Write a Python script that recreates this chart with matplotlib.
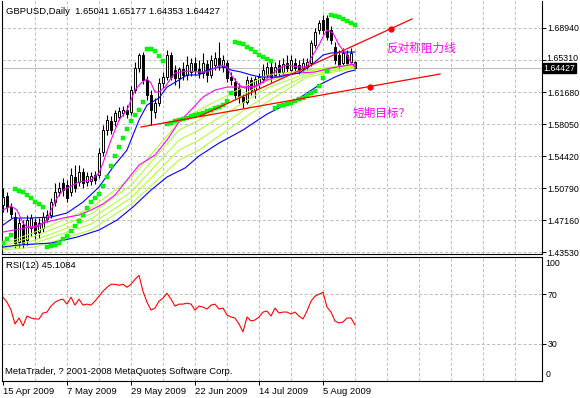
import numpy as np
import matplotlib.pyplot as plt

# daily bars GBPUSD, 15 Apr 2009 .. 17 Aug 2009
opens = [1.4886, 1.4988, 1.4864, 1.4750, 1.4467, 1.4660, 1.4490, 1.4626, 1.4694, 1.4580,
         1.4626, 1.4728, 1.4773, 1.4920, 1.5034, 1.5136, 1.5113, 1.5034, 1.5204, 1.5147,
         1.5261, 1.5147, 1.5158, 1.5227, 1.5227, 1.5487, 1.5737, 1.5839, 1.5839, 1.5884,
         1.5930, 1.5964, 1.5941, 1.6190, 1.6440, 1.6587, 1.6304, 1.6134, 1.5941, 1.6043,
         1.6270, 1.6338, 1.6587, 1.6417, 1.6326, 1.6429, 1.6361, 1.6395, 1.6497, 1.6429,
         1.6383, 1.6485, 1.6361, 1.6474, 1.6553, 1.6451, 1.6497, 1.6338, 1.6281, 1.6213,
         1.6111, 1.6054, 1.6304, 1.6190, 1.6270, 1.6315, 1.6361, 1.6451, 1.6361, 1.6474,
         1.6395, 1.6497, 1.6417, 1.6497, 1.6474, 1.6440, 1.6451, 1.6497, 1.6701, 1.6871,
         1.6984, 1.7007, 1.6871, 1.6678, 1.6587, 1.6497, 1.6587, 1.6508, 1.65041]
highs = [1.5079, 1.5034, 1.4909, 1.4807, 1.4739, 1.4716, 1.4773, 1.4784, 1.4739, 1.4739,
         1.4807, 1.4830, 1.4966, 1.5136, 1.5147, 1.5193, 1.5170, 1.5306, 1.5340, 1.5340,
         1.5306, 1.5261, 1.5261, 1.5272, 1.5533, 1.5793, 1.5907, 1.5896, 1.5964, 1.5998,
         1.6009, 1.6020, 1.6236, 1.6508, 1.6610, 1.6621, 1.6349, 1.6190, 1.6100, 1.6326,
         1.6395, 1.6644, 1.6621, 1.6474, 1.6451, 1.6508, 1.6576, 1.6553, 1.6565, 1.6531,
         1.6610, 1.6531, 1.6587, 1.6621, 1.6735, 1.6587, 1.6531, 1.6395, 1.6326, 1.6270,
         1.6145, 1.6349, 1.6338, 1.6349, 1.6383, 1.6485, 1.6508, 1.6508, 1.6508, 1.6531,
         1.6553, 1.6587, 1.6587, 1.6553, 1.6531, 1.6553, 1.6553, 1.6757, 1.6893, 1.6984,
         1.7041, 1.7041, 1.6916, 1.6735, 1.6644, 1.6667, 1.6644, 1.6667, 1.65177]
lows = [1.4807, 1.4807, 1.4739, 1.4399, 1.4410, 1.4399, 1.4433, 1.4535, 1.4490, 1.4512,
        1.4580, 1.4694, 1.4739, 1.4875, 1.4988, 1.4988, 1.4920, 1.4988, 1.5034, 1.5102,
        1.5079, 1.5102, 1.5113, 1.5124, 1.5193, 1.5442, 1.5680, 1.5691, 1.5782, 1.5850,
        1.5896, 1.5873, 1.5907, 1.6156, 1.6395, 1.6258, 1.6077, 1.5793, 1.5873, 1.6009,
        1.6213, 1.6304, 1.6304, 1.6247, 1.6213, 1.6304, 1.6304, 1.6349, 1.6361, 1.6326,
        1.6326, 1.6281, 1.6326, 1.6417, 1.6417, 1.6395, 1.6281, 1.6247, 1.6077, 1.6043,
        1.5986, 1.6032, 1.6134, 1.6100, 1.6213, 1.6270, 1.6326, 1.6281, 1.6349, 1.6349,
        1.6372, 1.6395, 1.6395, 1.6395, 1.6372, 1.6395, 1.6417, 1.6463, 1.6667, 1.6825,
        1.6825, 1.6757, 1.6712, 1.6485, 1.6417, 1.6463, 1.6463, 1.6474, 1.64353]
closes = [1.4977, 1.4864, 1.4784, 1.4455, 1.4682, 1.4455, 1.4716, 1.4739, 1.4569, 1.4682,
          1.4750, 1.4773, 1.4920, 1.5034, 1.5079, 1.5056, 1.4966, 1.5227, 1.5079, 1.5261,
          1.5136, 1.5215, 1.5215, 1.5170, 1.5476, 1.5737, 1.5850, 1.5737, 1.5930, 1.5952,
          1.5964, 1.5918, 1.6190, 1.6440, 1.6587, 1.6304, 1.6134, 1.5964, 1.6043, 1.6270,
          1.6338, 1.6587, 1.6338, 1.6326, 1.6429, 1.6361, 1.6474, 1.6497, 1.6417, 1.6383,
          1.6497, 1.6361, 1.6531, 1.6553, 1.6474, 1.6531, 1.6326, 1.6304, 1.6134, 1.6111,
          1.6054, 1.6304, 1.6190, 1.6315, 1.6338, 1.6417, 1.6451, 1.6338, 1.6451, 1.6395,
          1.6485, 1.6440, 1.6531, 1.6440, 1.6417, 1.6497, 1.6508, 1.6723, 1.6848, 1.6950,
          1.6871, 1.6791, 1.6757, 1.6531, 1.6474, 1.6610, 1.6497, 1.6610, 1.64427]

# parabolic SAR
sar = [1.4455, 1.4501, 1.4546, 1.5068, 1.5045, 1.5034, 1.5000, 1.4966, 1.4920, 1.4898,
       1.4864, 1.4410, 1.4421, 1.4433, 1.4455, 1.4501, 1.4535, 1.4591, 1.4648, 1.4705,
       1.4773, 1.4852, 1.4920, 1.4966, 1.5011, 1.5102, 1.5204, 1.5329, 1.5442, 1.5544,
       1.5646, 1.5748, 1.5839, 1.5907, 1.5964, 1.6054, 1.6655, 1.6655, 1.6633, 1.6576,
       1.6519, 1.5805, 1.5816, 1.5839, 1.5850, 1.5862, 1.5873, 1.5896, 1.5907, 1.5918,
       1.5930, 1.5952, 1.5964, 1.5986, 1.5998, 1.6020, 1.6066, 1.6156, 1.6735, 1.6723,
       1.6712, 1.6678, 1.6655, 1.6621, 1.6587, 1.6565, 1.6542, 1.6519, 1.5986, 1.6009,
       1.6020, 1.6032, 1.6043, 1.6066, 1.6088, 1.6100, 1.6134, 1.6156, 1.6179, 1.6236,
       1.6326, 1.6406, 1.7041, 1.7030, 1.7018, 1.6996, 1.6973, 1.6950, 1.6927]

# moving averages (bar index, price)
mag_fast_idx = [0, 2, 3.5, 5, 6, 7.5, 9, 11, 12, 13.5, 15, 17.5, 19, 22, 24, 25, 27, 29, 31, 33,
                34.5, 36, 37, 38, 39, 40.5, 42, 43, 46, 49, 51, 53, 54.5, 56, 57, 59, 60.5, 62, 64, 65.5,
                69, 71, 74, 76, 77, 79, 80.5, 81, 82.5, 84, 86, 87, 88]
mag_fast = [1.4830, 1.4875, 1.4830, 1.4682, 1.4637, 1.4626, 1.4648, 1.4716, 1.4830, 1.4966,
            1.5056, 1.5113, 1.5147, 1.5170, 1.5249, 1.5363, 1.5624, 1.5850, 1.5964, 1.6190,
            1.6270, 1.6315, 1.6270, 1.6168, 1.6168, 1.6224, 1.6326, 1.6383, 1.6406, 1.6395,
            1.6395, 1.6440, 1.6474, 1.6451, 1.6361, 1.6247, 1.6213, 1.6213, 1.6247, 1.6304,
            1.6440, 1.6474, 1.6451, 1.6451, 1.6553, 1.6701, 1.6837, 1.6871, 1.6837, 1.6701,
            1.6587, 1.6497, 1.6451]
mag_slow_idx = [0, 8, 11, 15, 19, 22, 25, 28, 31, 34, 38, 41, 44, 47, 50, 53, 56, 60, 63, 66,
                70, 74, 78, 82, 85, 88]
mag_slow = [1.4580, 1.4648, 1.4694, 1.4739, 1.4773, 1.4830, 1.4898, 1.5000, 1.5170, 1.5340,
            1.5453, 1.5624, 1.5828, 1.5964, 1.6111, 1.6190, 1.6224, 1.6224, 1.6236, 1.6304,
            1.6361, 1.6383, 1.6395, 1.6440, 1.6463, 1.6485]
blue_fast_idx = [0, 2.5, 7, 12, 16, 20, 24, 27.5, 31, 34, 36, 39, 41, 44, 46, 49, 51, 54, 55.5,
                 57, 59.5, 62, 64.5, 66, 69, 71, 74, 76, 78, 80, 82, 84.5, 88]
blue_fast = [1.4659, 1.4739, 1.4739, 1.4750, 1.4796, 1.4920, 1.5090, 1.5317, 1.5510, 1.5850,
             1.6020, 1.6100, 1.6224, 1.6304, 1.6361, 1.6361, 1.6417, 1.6451, 1.6451, 1.6417,
             1.6395, 1.6361, 1.6338, 1.6338, 1.6338, 1.6361, 1.6383, 1.6440, 1.6508, 1.6587,
             1.6610, 1.6621, 1.6621]
blue_slow_idx = [0, 4, 12, 18.5, 24, 28.5, 32.5, 37, 41, 45.5, 49, 54, 60, 66, 70.5, 74.5, 79,
                 83, 86, 88]
blue_slow = [1.4410, 1.4433, 1.4455, 1.4523, 1.4603, 1.4716, 1.4864, 1.5056, 1.5204, 1.5306,
             1.5442, 1.5589, 1.5737, 1.5918, 1.6020, 1.6111, 1.6247, 1.6338, 1.6395, 1.6417]

fan_idx = [0, 8, 22, 32, 44, 49, 66, 76, 88]
fan1 = [1.4444, 1.4580, 1.4852, 1.5193, 1.5828, 1.5964, 1.6361, 1.6417, 1.6485]
fan2 = [1.4421, 1.4535, 1.4784, 1.5113, 1.5737, 1.5850, 1.6292, 1.6406, 1.6474]
fan3 = [1.4399, 1.4490, 1.4728, 1.5034, 1.5623, 1.5737, 1.6213, 1.6383, 1.6463]
fan4 = [1.4387, 1.4455, 1.4671, 1.4966, 1.5510, 1.5623, 1.6134, 1.6361, 1.6451]
fan5 = [1.4376, 1.4410, 1.4603, 1.4898, 1.5397, 1.5510, 1.6054, 1.6338, 1.6440]

# trend lines (bar index, price) and their marker dots
res_line_idx = [49.25, 102.25]
res_line = [1.5896, 1.6996]
res_dot = (97, 1.6882)
sup_line_idx = [34.5, 109.25]
sup_line = [1.5771, 1.6372]
sup_dot = (91.75, 1.6224)

rsi = [67.6, 63.6, 57.2, 46.0, 50.8, 44.4, 52.4, 50.8, 50.0, 50.0,
       54.8, 55.6, 60.4, 63.6, 65.2, 66.0, 62.0, 67.6, 61.2, 66.0,
       61.2, 62.0, 61.2, 64.4, 68.4, 72.4, 75.6, 78.0, 78.0, 77.2,
       78.0, 75.6, 78.0, 82.0, 85.2, 72.4, 63.6, 57.2, 58.8, 64.4,
       66.8, 70.8, 66.0, 60.4, 62.0, 62.0, 62.8, 62.0, 57.2, 60.4,
       59.6, 58.0, 61.2, 62.0, 58.0, 58.8, 53.2, 51.6, 50.8, 46.0,
       39.6, 51.6, 48.4, 49.2, 51.6, 55.6, 56.4, 52.4, 58.8, 54.8,
       55.6, 55.6, 54.0, 55.6, 52.4, 50.0, 56.4, 64.4, 68.4, 70.0,
       71.6, 59.6, 55.6, 48.4, 46.8, 47.6, 50.8, 50.8, 45.2]

price_ticks = [1.68940, 1.65310, 1.61680, 1.58050, 1.54420, 1.50790, 1.47160, 1.43530]
last_price = 1.64427
date_idx = [0, 16, 32, 48, 64, 80]
date_labels = ['15 Apr 2009', '7 May 2009', '29 May 2009', '22 Jun 2009', '14 Jul 2009', '5 Aug 2009']

plt.rcParams['font.family'] = ['Liberation Sans', 'DejaVu Sans']
FS = 6.8     # general text
FS_AX = 6.3  # price scale
GRID = '#c0c0c0'
DASH = (0, (3, 2))

W, H = 580, 398
fig = plt.figure(figsize=(W / 100, H / 100), dpi=100)
ax = fig.add_axes([2 / W, 1 - 254 / H, 540 / W, 253 / H])
ax2 = fig.add_axes([2 / W, 1 - 381 / H, 540 / W, 124 / H])

xlim = (-0.25, 134.75)
for a in (ax, ax2):
    a.set_xlim(*xlim)
    for s in a.spines.values():
        s.set_linewidth(0.8)
    for k in range(8, 135, 8):
        a.axvline(k, color=GRID, ls=DASH, lw=0.75, zorder=0)
ax.spines['top'].set_visible(False)
ax.set_ylim(1.4331, 1.7200)

for p in price_ticks:
    ax.axhline(p, color=GRID, ls=DASH, lw=0.75, zorder=0)
ax.axhline(last_price, color=GRID, lw=0.8, zorder=0)

# candles
x = np.arange(len(closes))
o = np.array(opens); c = np.array(closes)
ax.vlines(x, lows, highs, color='black', lw=0.8, zorder=2)
body = np.maximum(np.abs(c - o), 0.0003)
cols = ['white' if cc >= oo else 'black' for oo, cc in zip(o, c)]
ax.bar(x, body, bottom=np.minimum(o, c), width=0.7, color=cols, edgecolor='black',
       linewidth=0.7, zorder=2)

# indicators
for f in (fan5, fan4, fan3, fan2, fan1):
    ax.plot(fan_idx, f, color='#adff2f', lw=0.75, zorder=3)
ax.plot(blue_slow_idx, blue_slow, color='#0000ff', lw=0.8, zorder=3)
ax.plot(mag_slow_idx, mag_slow, color='#ff00ff', lw=0.8, zorder=3)
ax.plot(blue_fast_idx, blue_fast, color='#0000ff', lw=0.8, zorder=3)
ax.plot(mag_fast_idx, mag_fast, color='#ff00ff', lw=0.8, zorder=3)
ax.plot(x, sar, ls='none', marker='s', ms=2.9, color='#00ff00', mec='#00dd00', mew=0.3, zorder=4)

ax.plot(res_line_idx, res_line, color='red', lw=0.9, zorder=4)
ax.plot(sup_line_idx, sup_line, color='red', lw=0.9, zorder=4)
ax.plot(*res_dot, marker='o', ms=3.5, color='red', zorder=5)
ax.plot(*sup_dot, marker='o', ms=3.5, color='red', zorder=5)

cjk = ['Noto Sans CJK SC', 'DejaVu Sans']
ax.text(95.9, 1.6667, '反对称阻力线', color='#ff00ff', fontsize=8.4, family=cjk, va='center')
ax.text(87.3, 1.5930, '短期目标？', color='#ff00ff', fontsize=8.4, family=cjk, va='center')

# price scale on the right; the label next to the last-price box is nudged up a little
ax.set_xticks([])
ax.yaxis.tick_right()
ax.set_yticks(price_ticks)
ax.set_yticklabels(['' if p == 1.65310 else '%.5f' % p for p in price_ticks])
ax.tick_params(axis='y', length=3, width=0.7, pad=1, labelsize=FS_AX)
ax.text(1.0075, 1.65310 + 0.0012, '%.5f' % 1.65310, transform=ax.get_yaxis_transform(),
        fontsize=FS_AX, va='center', ha='left')
ax.text(1.003, last_price - 0.0006, '%.5f' % last_price, transform=ax.get_yaxis_transform(),
        color='white', fontsize=FS_AX, va='center', ha='left',
        bbox=dict(boxstyle='square,pad=0.05', fc='black', ec='black'))

# RSI panel
ax2.set_ylim(0, 100)
for lv in (70, 30):
    ax2.axhline(lv, color=GRID, ls=DASH, lw=0.75, zorder=0)
ax2.plot(x, rsi, color='red', lw=0.8)
ax2.yaxis.tick_right()
ax2.set_yticks([70, 30])
ax2.set_yticklabels(['70', '30'])
ax2.tick_params(axis='y', length=3, width=0.7, pad=1, labelsize=FS_AX)
ax2.text(1.006, 95, '100', transform=ax2.get_yaxis_transform(), fontsize=FS_AX, va='center')
ax2.text(1.006, 5, '0', transform=ax2.get_yaxis_transform(), fontsize=FS_AX, va='center')
ax2.set_xticks(date_idx)
ax2.set_xticklabels(date_labels)
for lbl in ax2.get_xticklabels():
    lbl.set_ha('left')
ax2.tick_params(axis='x', length=3, width=0.7, pad=1.5, labelsize=FS)

fig.text(6 / W, 1 - 11 / H, 'GBPUSD,Daily  1.65041 1.65177 1.64353 1.64427', fontsize=FS, va='center')
fig.text(6 / W, 1 - 266 / H, 'RSI(12) 45.1084', fontsize=FS, va='center')
fig.text(5 / W, 1 - 372 / H, 'MetaTrader, ? 2001-2008 MetaQuotes Software Corp.', fontsize=FS, va='center')

fig.savefig('out.png', dpi=100)
